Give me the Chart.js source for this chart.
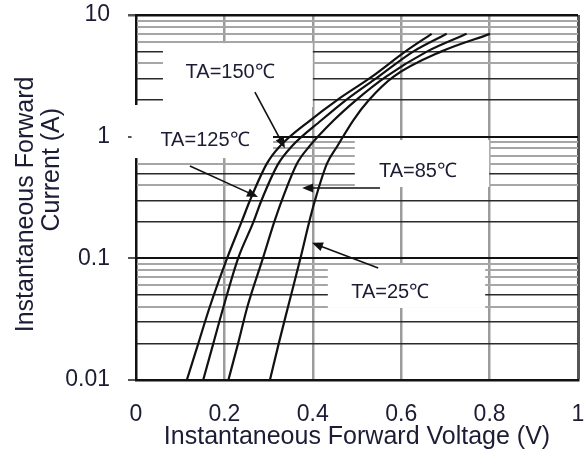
<!DOCTYPE html>
<html>
<head>
<meta charset="utf-8">
<script src="https://cdn.jsdelivr.net/npm/chart.js@4.4.1/dist/chart.umd.min.js"></script>
<style>
  html, body { margin: 0; padding: 0; background: #fff; }
  #wrap { width: 587px; height: 458px; }
</style>
</head>
<body>
<div id="wrap"><canvas id="vfChart" width="587" height="458"></canvas></div>
<script>
// 전류 (A) - 세로축 값
const currentA = [0.01, 0.02, 0.04, 0.1, 0.2, 0.3, 0.6, 0.83, 1.37, 2, 3.1, 5, 7];

// 온도별 순방향 전압 (V)
const vf150 = [0.115, 0.141, 0.167, 0.206, 0.239, 0.258, 0.296, 0.325, 0.395, 0.455, 0.533, 0.609, 0.669];
const vf125 = [0.152, 0.175, 0.198, 0.231, 0.266, 0.284, 0.322, 0.352, 0.420, 0.475, 0.548, 0.627, 0.703];
const vf85  = [0.209, 0.231, 0.252, 0.287, 0.313, 0.330, 0.364, 0.392, 0.448, 0.498, 0.565, 0.658, 0.748];
const vf25  = [0.303, 0.323, 0.344, 0.372, 0.392, 0.405, 0.432, 0.455, 0.492, 0.527, 0.582, 0.690, 0.801];

const seriesNames = ['TA=150℃', 'TA=125℃', 'TA=85℃', 'TA=25℃'];

// 축 눈금
const xTicks = [0, 0.2, 0.4, 0.6, 0.8, 1];
const yDecades = [0.01, 0.1, 1, 10];

// 라벨 상자 / 화살표 (데이터 좌표)
const noteBoxes = [
  { x0: 0.061, x1: 0.400, y0: 1.75, y1: 5.87 },
  { x0: -0.01, x1: 0.310, y0: 0.667, y1: 1.82 },
  { x0: 0.495, x1: 0.799, y0: 0.386, y1: 0.938 },
  { x0: 0.434, x1: 0.790, y0: 0.0391, y1: 0.0881 }
];
const noteTexts = [
  { x: 0.213, y: 3.40 },
  { x: 0.156, y: 0.938 },
  { x: 0.638, y: 0.521 },
  { x: 0.575, y: 0.0528 }
];
const noteArrows = [
  { x0: 0.269, y0: 2.32, x1: 0.337, y1: 0.805 },
  { x0: 0.122, y0: 0.573, x1: 0.276, y1: 0.319 },
  { x0: 0.552, y0: 0.379, x1: 0.376, y1: 0.379 },
  { x0: 0.548, y0: 0.0832, x1: 0.398, y1: 0.134 }
];

const FONT = "'Liberation Sans', Arial, sans-serif";
const TEXT_COLOR = '#1c1c34';

function toPoints(vs) {
  return vs.map((v, i) => ({ x: v, y: currentA[i] }));
}

function mantissa(v) {
  const p = Math.pow(10, Math.floor(Math.log10(v) + 1e-9));
  return Math.round(v / p);
}

function isDecade(v) {
  return yDecades.some(d => Math.abs(d - v) / d < 1e-6);
}

function yGridColor(ctx) {
  const v = ctx.tick ? ctx.tick.value : 0;
  if (isDecade(v)) return '#111';
  const m = mantissa(v);
  return (m === 2 || m === 3 || m === 5) ? '#2a2a2a' : '#a6a6a6';
}

function yGridWidth(ctx) {
  const v = ctx.tick ? ctx.tick.value : 0;
  if (isDecade(v)) return v === 10 ? 2.5 : 2;
  const m = mantissa(v);
  return (m === 2 || m === 3 || m === 5) ? 1.5 : 2;
}

// 축 여백 제거 (차트 영역 위치 고정용)
function fixScale(scale, size) {
  if (scale.isHorizontal()) scale.height = size; else scale.width = size;
  scale.paddingTop = 0;
  scale.paddingBottom = 0;
  scale.paddingLeft = 0;
  scale.paddingRight = 0;
}

function drawArrow(c, x0, y0, x1, y1) {
  const ang = Math.atan2(y1 - y0, x1 - x0);
  const len = 11, half = 4.5;
  c.save();
  c.strokeStyle = '#111';
  c.fillStyle = '#111';
  c.lineWidth = 1.6;
  c.beginPath();
  c.moveTo(x0, y0);
  c.lineTo(x1 - Math.cos(ang) * len * 0.8, y1 - Math.sin(ang) * len * 0.8);
  c.stroke();
  c.beginPath();
  c.moveTo(x1, y1);
  c.lineTo(x1 - Math.cos(ang) * len - Math.sin(ang) * half, y1 - Math.sin(ang) * len + Math.cos(ang) * half);
  c.lineTo(x1 - Math.cos(ang) * len + Math.sin(ang) * half, y1 - Math.sin(ang) * len - Math.cos(ang) * half);
  c.closePath();
  c.fill();
  c.restore();
}

// 라벨 상자, 텍스트, 화살표 그리기
const notesPlugin = {
  id: 'notes',
  beforeDatasetsDraw(chart) {
    const c = chart.ctx, xs = chart.scales.x, ys = chart.scales.y;
    c.save();
    c.fillStyle = '#fff';
    noteBoxes.forEach(b => {
      const l = xs.getPixelForValue(b.x0), r = xs.getPixelForValue(b.x1);
      const t = ys.getPixelForValue(b.y1), btm = ys.getPixelForValue(b.y0);
      c.fillRect(l, t, r - l, btm - t);
    });
    c.restore();
  },
  afterDatasetsDraw(chart) {
    const c = chart.ctx, xs = chart.scales.x, ys = chart.scales.y;
    noteArrows.forEach(a => {
      drawArrow(c, xs.getPixelForValue(a.x0), ys.getPixelForValue(a.y0),
                xs.getPixelForValue(a.x1), ys.getPixelForValue(a.y1));
    });
    c.save();
    c.font = '20px ' + FONT;
    c.fillStyle = TEXT_COLOR;
    c.textAlign = 'center';
    c.textBaseline = 'middle';
    noteTexts.forEach((t, i) => {
      c.fillText(seriesNames[i], xs.getPixelForValue(t.x), ys.getPixelForValue(t.y));
    });
    c.restore();
  }
};

const lineStyle = {
  borderColor: '#111',
  borderWidth: 2.2,
  pointRadius: 0,
  cubicInterpolationMode: 'monotone',
  fill: false
};

const data = {
  datasets: [
    { label: seriesNames[0], data: toPoints(vf150), ...lineStyle },
    { label: seriesNames[1], data: toPoints(vf125), ...lineStyle },
    { label: seriesNames[2], data: toPoints(vf85), ...lineStyle },
    { label: seriesNames[3], data: toPoints(vf25), ...lineStyle }
  ]
};

const options = {
  responsive: false,
  animation: false,
  devicePixelRatio: 1,
  layout: { padding: { top: 15, right: 9, left: 0, bottom: 0 } },
  plugins: {
    legend: { display: false },
    tooltip: { enabled: false }
  },
  scales: {
    x: {
      type: 'linear',
      min: 0,
      max: 1,
      afterBuildTicks: scale => { scale.ticks = xTicks.map(v => ({ value: v })); },
      afterFit: scale => fixScale(scale, 78),
      ticks: {
        color: TEXT_COLOR,
        font: { family: FONT, size: 23 },
        padding: 21,
        maxRotation: 0,
        callback: v => String(v)
      },
      grid: {
        drawTicks: false,
        color: ctx => {
          const v = ctx.tick ? ctx.tick.value : 0;
          if (v === 0) return '#111';
          if (v === 1) return '#555';
          return '#9c9c9c';
        },
        lineWidth: ctx => {
          const v = ctx.tick ? ctx.tick.value : 0;
          if (v === 1) return 3;
          return 2.5;
        }
      },
      border: { color: '#111', width: 2.5 },
      title: {
        display: true,
        text: 'Instantaneous Forward Voltage (V)',
        color: TEXT_COLOR,
        font: { family: FONT, size: 25, lineHeight: 1.04 },
        padding: { top: 0, bottom: 8 }
      }
    },
    y: {
      type: 'logarithmic',
      min: 0.01,
      max: 10,
      afterBuildTicks: scale => {
        const t = [];
        yDecades.forEach(d => {
          for (let m = 1; m <= 9; m++) {
            const v = d * m;
            if (v <= 10 + 1e-9) t.push({ value: Number(v.toPrecision(3)), major: m === 1 });
          }
        });
        scale.ticks = t;
      },
      afterFit: scale => fixScale(scale, 136),
      ticks: {
        color: TEXT_COLOR,
        font: { family: FONT, size: 23 },
        padding: 18,
        autoSkip: false,
        callback: v => isDecade(v) ? String(v) : ''
      },
      grid: {
        tickLength: 8,
        color: yGridColor,
        lineWidth: yGridWidth,
        tickColor: ctx => {
          const v = ctx.tick ? ctx.tick.value : 0;
          return isDecade(v) ? '#555' : 'rgba(0,0,0,0)';
        }
      },
      border: { color: '#111', width: 2 },
      title: {
        display: true,
        text: ['Instantaneous Forward  ', '        Current (A)'],
        color: TEXT_COLOR,
        font: { family: FONT, size: 25, lineHeight: 1.04 },
        padding: { top: 13, bottom: 0 }
      }
    }
  }
};

const ctx = document.getElementById('vfChart').getContext('2d');
new Chart(ctx, { type: 'line', data: data, options: options, plugins: [notesPlugin] });
</script>
</body>
</html>
